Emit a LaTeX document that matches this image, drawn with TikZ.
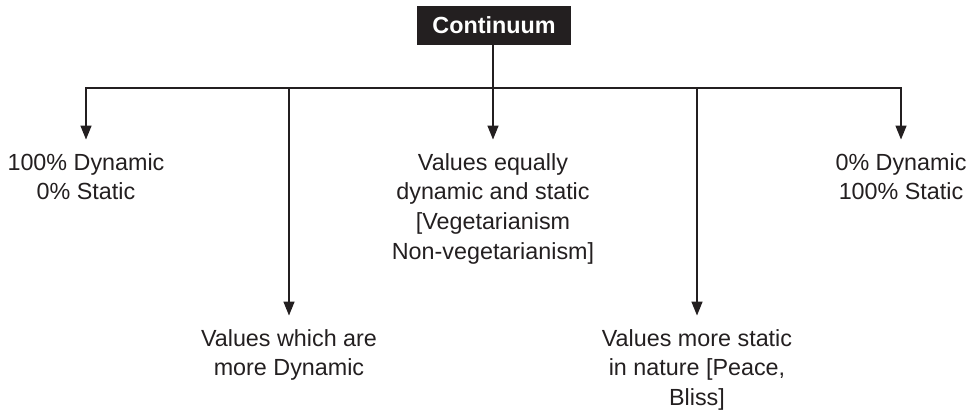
\documentclass[tikz,border=0pt]{standalone}
\usepackage{fontspec}
\setmainfont{Liberation Sans}
\usetikzlibrary{arrows.meta}

\definecolor{inkgray}{RGB}{35,31,32}

\tikzset{
  lbl/.style={anchor=north, inner sep=0pt, align=center, text=inkgray,
    font=\fontsize{17.5}{22.3}\selectfont},
  head/.style={fill=inkgray, text=white, inner sep=0pt, minimum width=115pt,
    minimum height=29pt, font=\fontsize{17.5}{21}\selectfont\bfseries},
  arr/.style={-{Triangle[length=10.5pt,width=8pt]}, draw=inkgray,
    line width=1.6pt, shorten >=10pt},
}

\begin{document}
\begin{tikzpicture}[x=0.75pt,y=0.75pt,yscale=-1,xscale=1]
\useasboundingbox (0,0) rectangle (971,410); %set diagram size to 971 x 410

% Text Node
\node[head] (cont) at (494,25.5) {Continuum};
% Text Node
\node[lbl] (dyn) at (86,153) {100\% Dynamic\\0\% Static};
% Text Node
\node[lbl] (equal) at (493,153) {Values equally\\dynamic and static\\{[}Vegetarianism\\Non-vegetarianism]};
% Text Node
\node[lbl] (stat) at (901,153) {0\% Dynamic\\100\% Static};
% Text Node
\node[lbl] (more) at (289,329) {Values which are\\more Dynamic};
% Text Node
\node[lbl] (calm) at (697,329) {Values more static\\in nature [Peace,\\Bliss]};

\coordinate (bar) at (493,88);

%Straight Lines
\draw[arr] (cont.south -| bar) -- (equal.north);
\draw[arr] (bar) -| (dyn.north);
\draw[arr] (bar) -| (stat.north);
\draw[arr] (more.north |- bar) -- (more.north);
\draw[arr] (calm.north |- bar) -- (calm.north);

\end{tikzpicture}
\end{document}
